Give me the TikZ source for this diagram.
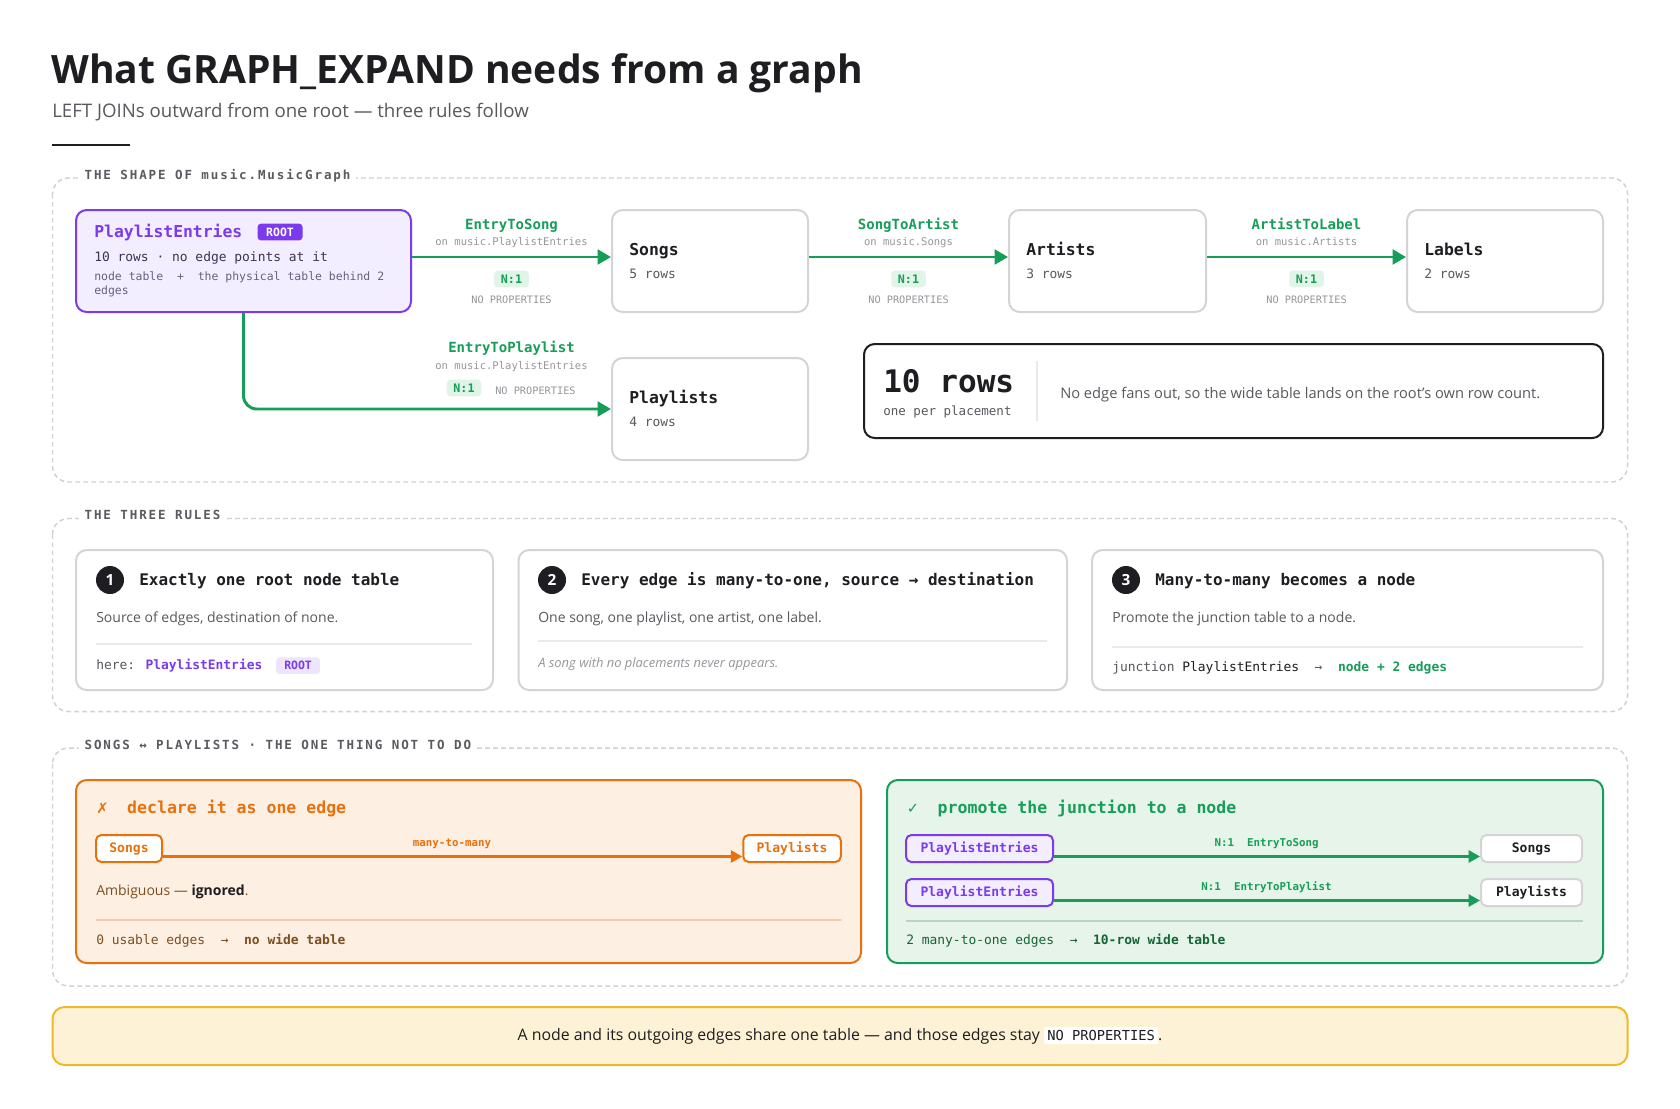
\documentclass[tikz,border=0pt]{standalone}
\usepackage{fontspec}
\setmainfont{Open Sans}
\newfontfamily\mono{DejaVu Sans Mono}
\newfontfamily\monols[LetterSpace=15]{DejaVu Sans Mono}
\newfontfamily\symfont{DejaVu Sans}
\usetikzlibrary{arrows.meta,positioning}
\newcommand\fsz[1]{\fontsize{#1}{#1}\selectfont}
\newcommand\pxu{0.75pt}

\definecolor{ink}{RGB}{30,30,34}
\definecolor{subgray}{RGB}{88,88,94}
\definecolor{lightgray}{RGB}{150,150,156}
\definecolor{labelgray}{RGB}{90,90,96}
\definecolor{boxgray}{RGB}{212,212,216}
\definecolor{dashgray}{RGB}{208,208,213}
\definecolor{sepgray}{RGB}{234,234,237}
\definecolor{purple}{RGB}{124,58,237}
\definecolor{purplefill}{RGB}{243,238,255}
\definecolor{purplesoft}{RGB}{237,229,255}
\definecolor{rootink}{RGB}{60,52,80}
\definecolor{rootnote}{RGB}{105,96,124}
\definecolor{green}{RGB}{22,158,88}
\definecolor{greensoft}{RGB}{225,244,232}
\definecolor{greenfill}{RGB}{230,244,234}
\definecolor{greensep}{RGB}{178,214,190}
\definecolor{darkgreen}{RGB}{22,101,52}
\definecolor{orange}{RGB}{232,113,12}
\definecolor{orangefill}{RGB}{253,239,226}
\definecolor{orangesep}{RGB}{242,204,172}
\definecolor{brown}{RGB}{125,78,30}
\definecolor{bannerfill}{RGB}{253,242,214}
\definecolor{bannerline}{RGB}{236,186,40}

\tikzset{
  section/.style={draw=dashgray, line width=1.1pt, dash pattern=on 3.5pt off 2.5pt, rounded corners=12pt},
  seclabel/.style={fill=white, anchor=base west, inner xsep=4pt, inner ysep=2pt, text=labelgray, font=\monols\bfseries\fsz{9.4}},
  sz/.style 2 args={minimum width=#1*\pxu, minimum height=#2*\pxu},
  tbl/.style={draw=boxgray, fill=white, line width=1.5pt, rounded corners=8pt, inner sep=0pt},
  chip/.style={draw=boxgray, fill=white, line width=1.5pt, rounded corners=4pt, inner sep=0pt, text=ink, font=\mono\bfseries\fsz{9.8}},
  txt/.style={anchor=base west, inner sep=0pt},
  mid/.style={anchor=base, inner sep=0pt},
  tname/.style={txt, text=ink, font=\mono\bfseries\fsz{12.3}},
  trows/.style={txt, text=subgray, font=\mono\fsz{9.7}},
  ename/.style={mid, text=green, font=\mono\bfseries\fsz{10.5}},
  eon/.style={mid, text=lightgray, font=\mono\fsz{7.9}},
  noprop/.style={mid, text=lightgray, font=\mono\fsz{7.7}},
  card/.style={fill=greensoft, text=green, font=\mono\bfseries\fsz{8.8}, rounded corners=2.5pt, inner xsep=5pt, inner ysep=3pt},
  rootbadge/.style={fill=purple, text=white, font=\mono\bfseries\fsz{8.6}, rounded corners=2.5pt, inner xsep=6.5pt, inner ysep=3pt},
  softbadge/.style={fill=purplesoft, text=purple, font=\mono\bfseries\fsz{8.6}, rounded corners=2.5pt, inner xsep=6pt, inner ysep=3pt},
  num/.style={circle, fill=ink, text=white, font=\bfseries\fsz{11.5}, minimum size=21pt, inner sep=0pt},
  rhead/.style={txt, text=ink, font=\mono\bfseries\fsz{12}},
  rdesc/.style={txt, text=subgray, font=\fsz{10.5}},
  rfoot/.style={txt, text=subgray, font=\mono\fsz{9.7}},
  sepline/.style={draw=sepgray, line width=0.9pt},
  edge/.style={draw=green, line width=2.2pt, -{Triangle[length=10pt,width=11pt]}},
  smalledge/.style={draw=green, line width=1.8pt, -{Triangle[length=8.5pt,width=9pt]}},
  badedge/.style={draw=orange, line width=1.8pt, -{Triangle[length=8.5pt,width=9pt]}},
  elabel/.style={mid, text=green, font=\mono\bfseries\fsz{8.1}},
  banner/.style={fill=bannerfill, draw=bannerline, line width=1.5pt, rounded corners=9pt, text=ink, font=\fsz{11.9}}
}

\begin{document}
\begin{tikzpicture}[x=0.75pt, y=-0.75pt]
\fill[white] (0,0) rectangle (1680,1108);
\useasboundingbox (0,0) rectangle (1680,1108);

\node[txt, text=ink, font=\bfseries\fsz{29.3}] (title) at (51,83.5) {What GRAPH\_EXPAND needs from a graph};
\node[txt, text=subgray, font=\fsz{14}] (subtitle) at (52,117) {LEFT JOINs outward from one root — three rules follow};
\draw[ink, line width=2.2pt] (52,145) -- (130,145);

\draw[section] (52.5,178) rectangle (1627.5,482);
\node[seclabel] (shapelabel) at (79,179) {THE SHAPE OF music.MusicGraph};

\node[tbl, draw=purple, fill=purplefill, sz={335}{102}] (root) at (243.5,261) {};
\node[tname, text=purple] (roottitle) at (94,237) {PlaylistEntries};
\node[rootbadge, right=11pt of roottitle] (rootbadge) {ROOT};
\node[txt, text=rootink, font=\mono\fsz{9.7}] (rootrows) at (94,261) {10 rows · no edge points at it};
\node[txt, text=rootnote, font=\mono\fsz{8.6}] (rootnote1) at (94,280) {node table~~+~~the physical table behind 2};
\node[txt, text=rootnote, font=\mono\fsz{8.6}] (rootnote2) at (94,294) {edges};

\node[tbl, sz={196}{102}] (songs) at (710,261) {};
\node[tname] (songsname) at (629,255) {Songs};
\node[trows] (songsrows) at (629,278) {5 rows};

\node[tbl, sz={197}{102}] (artists) at (1107.5,261) {};
\node[tname] (artistsname) at (1026,255) {Artists};
\node[trows] (artistsrows) at (1026,278) {3 rows};

\node[tbl, sz={196}{102}] (labels) at (1505,261) {};
\node[tname] (labelsname) at (1424,255) {Labels};
\node[trows] (labelsrows) at (1424,278) {2 rows};

\node[tbl, sz={196}{102}] (playlists) at (710,409) {};
\node[tname] (playlistsname) at (629,403) {Playlists};
\node[trows] (playlistsrows) at (629,426) {4 rows};

\draw[edge] ([yshift=3pt]root.east) -- ([yshift=3pt]songs.west);
\node[ename] (e1name) at (511.5,229) {EntryToSong};
\node[eon] (e1on) at (511.5,245) {on music.PlaylistEntries};
\node[card] (e1card) at (511.5,279) {N:1};
\node[noprop] (e1prop) at (511.5,303.5) {NO PROPERTIES};

\draw[edge] ([yshift=3pt]songs.east) -- ([yshift=3pt]artists.west);
\node[ename] (e2name) at (908.5,229) {SongToArtist};
\node[eon] (e2on) at (908.5,245) {on music.Songs};
\node[card] (e2card) at (908.5,279) {N:1};
\node[noprop] (e2prop) at (908.5,303.5) {NO PROPERTIES};

\draw[edge] ([yshift=3pt]artists.east) -- ([yshift=3pt]labels.west);
\node[ename] (e3name) at (1306.5,229) {ArtistToLabel};
\node[eon] (e3on) at (1306.5,245) {on music.Artists};
\node[card] (e3card) at (1306.5,279) {N:1};
\node[noprop] (e3prop) at (1306.5,303.5) {NO PROPERTIES};

\draw[edge, rounded corners=10pt] (root.south) |- (playlists.west);
\node[ename] (e4name) at (511.5,352) {EntryToPlaylist};
\node[eon] (e4on) at (511.5,369) {on music.PlaylistEntries};
\node[card] (e4card) at (464,388) {N:1};
\node[noprop, anchor=base west] (e4prop) at (495,394.5) {NO PROPERTIES};

\node[tbl, draw=ink, sz={739}{94}] (total) at (1233.5,391) {};
\node[txt, text=ink, font=\mono\bfseries\fsz{23.3}] (totalrows) at (883,392) {10 rows};
\node[txt, text=subgray, font=\mono\fsz{9.4}] (totalper) at (883,415.5) {one per placement};
\draw[sepline] (1037,361) -- (1037,421);
\node[txt, text=subgray, font=\fsz{11}] (totalnote) at (1060,398) {No edge fans out, so the wide table lands on the root's own row count.};

\draw[section] (52.5,518.5) rectangle (1627.5,711.5);
\node[seclabel] (ruleslabel) at (79,519.5) {THE THREE RULES};

\node[tbl, sz={417}{140}] (rule1) at (284.5,620) {};
\node[num] (num1) at (110,580) {1};
\node[rhead] (r1head) at (139,585.5) {Exactly one root node table};
\node[rdesc] (r1desc) at (96,622) {Source of edges, destination of none.};
\draw[sepline] (96,644) -- (472,644);
\node[rfoot] (r1here) at (96,669.5) {here: \textcolor{purple}{\bfseries PlaylistEntries}};
\node[softbadge, right=10pt of r1here] (r1badge) {ROOT};

\node[tbl, sz={548.5}{140}] (rule2) at (792.75,620) {};
\node[num] (num2) at (552,580) {2};
\node[rhead] (r2head) at (581,585.5) {Every edge is many-to-one, source → destination};
\node[rdesc] (r2desc) at (538,622) {One song, one playlist, one artist, one label.};
\draw[sepline] (538,641) -- (1047,641);
\node[txt, text=lightgray, font=\itshape\fsz{9.7}] (r2note) at (538,667) {A song with no placements never appears.};

\node[tbl, sz={511}{140}] (rule3) at (1347.5,620) {};
\node[num] (num3) at (1126,580) {3};
\node[rhead] (r3head) at (1155,585.5) {Many-to-many becomes a node};
\node[rdesc] (r3desc) at (1112,622) {Promote the junction table to a node.};
\draw[sepline] (1112,647) -- (1583,647);
\node[rfoot] (r3foot) at (1112,671) {junction \textcolor{ink}{PlaylistEntries}~~→~~\textcolor{green}{\bfseries node + 2 edges}};

\draw[section] (52.5,748) rectangle (1627.5,986);
\node[seclabel] (donotlabel) at (79,749) {SONGS ↔ PLAYLISTS · THE ONE THING NOT TO DO};

\node[tbl, draw=orange, fill=orangefill, sz={785}{183}] (bad) at (468.5,871.5) {};
\node[txt, text=orange, font=\mono\bfseries\fsz{12.4}] (badhead) at (96,813) {{\symfont\mdseries\fsz{11}✗}\hspace{14pt}declare it as one edge};
\node[chip, draw=orange, text=orange, sz={66}{27}] (badsongs) at (129,848.5) {Songs};
\node[chip, draw=orange, text=orange, sz={97.5}{27}] (badplaylists) at (792,848.5) {Playlists};
\draw[badedge] ([yshift=-6pt]badsongs.east) -- ([yshift=-6pt]badplaylists.west);
\node[elabel, text=orange] (badlabel) at (452,846.5) {many-to-many};
\node[txt, text=brown, font=\fsz{10.5}] (badnote) at (96,895) {Ambiguous — \textcolor{ink}{\bfseries ignored}.};
\draw[sepline, draw=orangesep] (96,920) -- (842,920);
\node[rfoot, text=brown] (badfoot) at (96,944.5) {0 usable edges~~→~~\textbf{no wide table}};

\node[tbl, draw=green, fill=greenfill, sz={716}{183}] (good) at (1245,871.5) {};
\node[txt, text=green, font=\mono\bfseries\fsz{12.4}] (goodhead) at (906.5,813) {{\symfont\mdseries\fsz{11}✓}\hspace{14pt}promote the junction to a node};
\node[chip, draw=purple, fill=purplefill, text=purple, sz={147}{27}] (goodpe1) at (979.5,848.5) {PlaylistEntries};
\node[chip, draw=purple, fill=purplefill, text=purple, sz={147}{27}] (goodpe2) at (979.5,892.5) {PlaylistEntries};
\node[chip, sz={101}{27}] (goodsongs) at (1531.5,848.5) {Songs};
\node[chip, sz={101}{27}] (goodplaylists) at (1531.5,892.5) {Playlists};
\draw[smalledge] ([yshift=-6pt]goodpe1.east) -- ([yshift=-6pt]goodsongs.west);
\draw[smalledge] ([yshift=-6pt]goodpe2.east) -- ([yshift=-6pt]goodplaylists.west);
\node[elabel] (goodlabel1) at (1266.5,846.5) {N:1~~EntryToSong};
\node[elabel] (goodlabel2) at (1266.5,890.5) {N:1~~EntryToPlaylist};
\draw[sepline, draw=greensep] (906,921) -- (1583,921);
\node[rfoot, text=darkgreen] (goodfoot) at (906,944.5) {2 many-to-one edges~~→~~\textbf{10-row wide table}};

\node[banner, sz={1575}{58}] (banner) at (840,1036) {A node and its outgoing edges share one table — and those edges stay \setlength{\fboxsep}{2.5pt}\colorbox{white}{\mono\fsz{10.3}NO PROPERTIES}.};
\end{tikzpicture}
\end{document}
